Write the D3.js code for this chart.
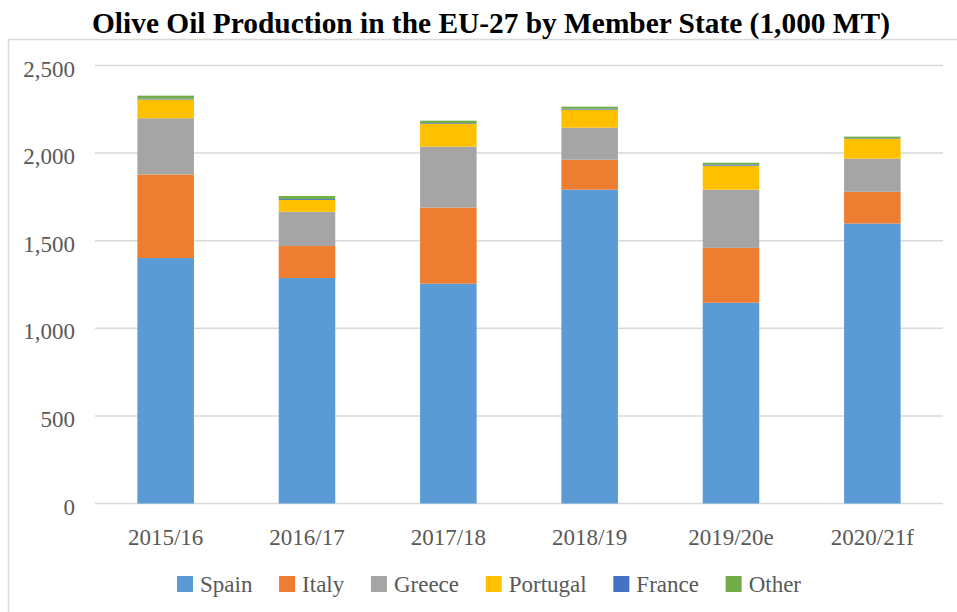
<!DOCTYPE html>
<html>
<head>
<meta charset="utf-8">
<script src="https://cdn.jsdelivr.net/npm/d3@7"></script>
<style>
  html, body { margin: 0; padding: 0; background: #fff; }
  svg { display: block; }
</style>
</head>
<body>
<svg id="chart" width="957" height="612"></svg>
<script>
const categories = ["2015/16", "2016/17", "2017/18", "2018/19", "2019/20e", "2020/21f"];
const seriesNames = ["Spain", "Italy", "Greece", "Portugal", "France", "Other"];
const spain    = [1401, 1287, 1255, 1791, 1146, 1598];
const italy    = [477, 183, 434, 171, 313, 181];
const greece   = [321, 195, 348, 183, 332, 189];
const portugal = [107, 68, 131, 103, 137, 114];
const france   = [5, 5, 4, 6, 7, 3];
const other    = [17, 17, 13, 11, 10, 9];
const yTicks   = [0, 500, 1000, 1500, 2000, 2500];
const titleText = "Olive Oil Production in the EU-27 by Member State (1,000 MT)";

const colors = ["#5B9BD5", "#ED7D31", "#A5A5A5", "#FFC000", "#4472C4", "#70AD47"];
const seriesValues = [spain, italy, greece, portugal, france, other];

const rows = categories.map((c, i) => {
  const r = { cat: c };
  seriesNames.forEach((s, k) => r[s] = seriesValues[k][i]);
  return r;
});

const svg = d3.select("#chart");
const font = "'Liberation Serif', 'Times New Roman', serif";
const gray = "#595959";

// outer frame
svg.append("rect")
  .attr("x", 8.5).attr("y", 39.5)
  .attr("width", 960).attr("height", 600)
  .attr("fill", "none").attr("stroke", "#d9d9d9").attr("stroke-width", 1.5);

// title
const title = svg.append("text")
  .attr("x", 491).attr("y", 32.5)
  .attr("text-anchor", "middle")
  .attr("font-family", font)
  .attr("font-weight", "bold")
  .attr("font-size", 30)
  .attr("fill", "#000")
  .text(titleText);
title.attr("textLength", 798).attr("lengthAdjust", "spacingAndGlyphs");

const x = d3.scaleBand().domain(categories).range([95, 943]).paddingInner(0.6).paddingOuter(0.3);
const y = d3.scaleLinear().domain([0, 2500]).range([503.5, 65.5]);

// gridlines
svg.append("g").selectAll("line").data(yTicks).join("line")
  .attr("x1", 95).attr("x2", 943)
  .attr("y1", d => y(d)).attr("y2", d => y(d))
  .attr("stroke", "#d9d9d9").attr("stroke-width", 1.5);

// y tick labels
svg.append("g").selectAll("text").data(yTicks).join("text")
  .attr("x", 75).attr("y", d => y(d) + 11)
  .attr("text-anchor", "end")
  .attr("font-family", font).attr("font-size", 23).attr("fill", gray)
  .text(d => d3.format(",")(d));

// stacked bars
const stack = d3.stack().keys(seriesNames);
const layers = stack(rows);
svg.append("g").selectAll("g").data(layers).join("g")
  .attr("fill", (d, i) => colors[i])
  .selectAll("rect").data(d => d).join("rect")
  .attr("x", d => x(d.data.cat))
  .attr("width", x.bandwidth())
  .attr("y", d => y(d[1]))
  .attr("height", d => y(d[0]) - y(d[1]));

// x labels
svg.append("g").selectAll("text").data(categories).join("text")
  .attr("x", d => x(d) + x.bandwidth() / 2).attr("y", 545)
  .attr("text-anchor", "middle")
  .attr("font-family", font).attr("font-size", 23).attr("fill", gray)
  .text(d => d);

// legend
const leg = svg.append("g");
const items = leg.selectAll("g").data(seriesNames).join("g");
items.append("rect").attr("width", 16).attr("height", 16).attr("y", 576)
  .attr("fill", (d, i) => colors[i]);
items.append("text").attr("x", 23).attr("y", 592)
  .attr("font-family", font).attr("font-size", 23).attr("fill", gray)
  .text(d => d);
const widths = [];
items.each(function() { widths.push(this.querySelector("text").getComputedTextLength()); });
const startX = 177, endX = 801;
const contentW = widths.reduce((a, b) => a + b + 23, 0);
const gap = (endX - startX - contentW) / (seriesNames.length - 1);
let cx = startX;
items.attr("transform", (d, i) => {
  const t = `translate(${cx},0)`;
  cx += 23 + widths[i] + gap;
  return t;
});
</script>
</body>
</html>
